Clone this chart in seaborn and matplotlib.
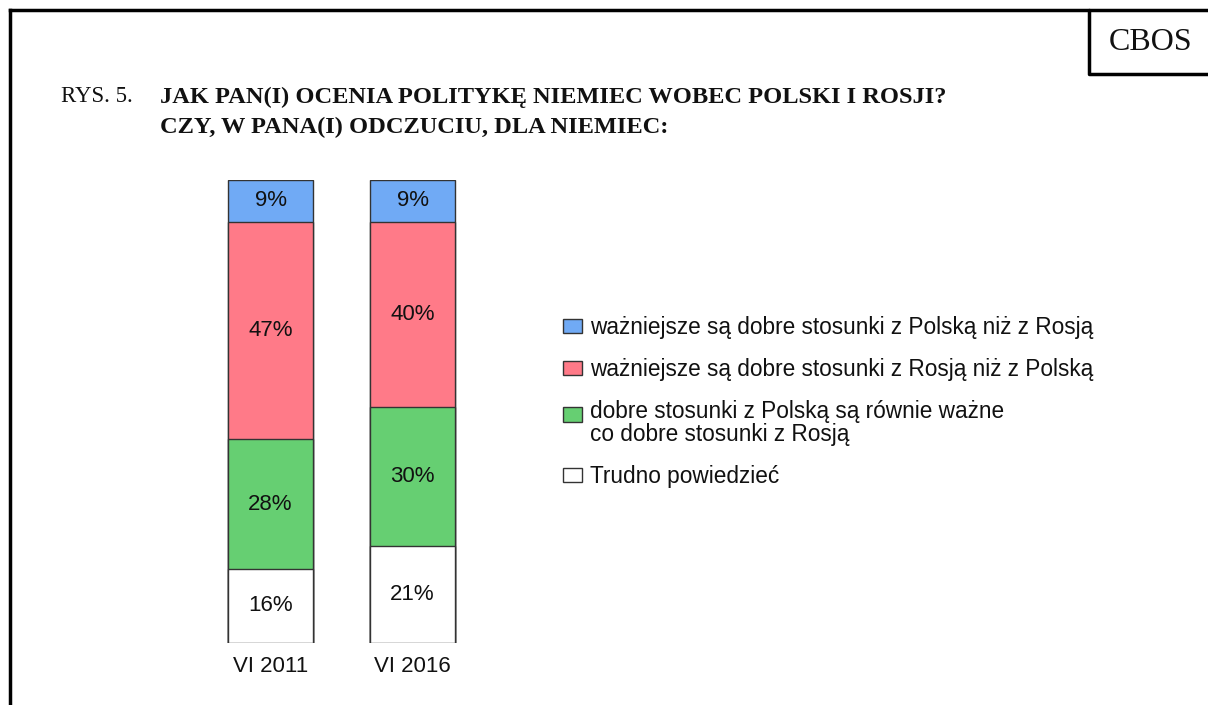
"""CBOS, rys. 5 - ocena polityki Niemiec wobec Polski i Rosji."""

import matplotlib

matplotlib.use("Agg")
import matplotlib.pyplot as plt
import pandas as pd
import seaborn as sns
from matplotlib.patches import Patch

W, H, DPI = 1208, 705, 100

okresy = ["VI 2011", "VI 2016"]
kategorie = [
    "ważniejsze są dobre stosunki z Polską niż z Rosją",
    "ważniejsze są dobre stosunki z Rosją niż z Polską",
    "dobre stosunki z Polską są równie ważne\nco dobre stosunki z Rosją",
    "Trudno powiedzieć",
]
wazniejsza_polska = [9, 9]
wazniejsza_rosja = [47, 40]
rownie_wazne = [28, 30]
trudno_powiedziec = [16, 21]

kolory = ["#70AAF5", "#FF7A88", "#66CF72", "#FFFFFF"]
EDGE = "#333333"

sns.set_theme(style="white")
plt.rcParams["font.family"] = ["Liberation Sans", "DejaVu Sans"]

# od dolu: trudno -> rownie -> rosja -> polska
serie = [trudno_powiedziec, rownie_wazne, wazniejsza_rosja, wazniejsza_polska]
kolory_dol = kolory[::-1]
rows = []
for okres_i, okres in enumerate(okresy):
    dol = 0
    for s_i, s in enumerate(serie):
        v = s[okres_i]
        rows.append({"okres": okres, "seria": s_i, "wartosc": v,
                     "dol": dol, "gora": dol + v})
        dol += v
df = pd.DataFrame(rows)


def px_rect(x0, y0, x1, y1):
    # piksele (od gory) -> ulamki figury
    return [x0 / W, 1 - y1 / H, (x1 - x0) / W, (y1 - y0) / H]


fig = plt.figure(figsize=(W / DPI, H / DPI), dpi=DPI)

# ramka i pudelko CBOS
bg = fig.add_axes([0, 0, 1, 1])
bg.set_xlim(0, W)
bg.set_ylim(H, 0)
bg.axis("off")
bg.plot([10, 10], [H, 10], color="black", lw=2.5, solid_capstyle="projecting")
bg.plot([10, W], [10, 10], color="black", lw=2.5, solid_capstyle="projecting")
bg.plot([1089, 1089, W], [10, 74, 74], color="black", lw=2.5)
bg.text(1151, 43, "CBOS", ha="center", va="center", fontsize=23,
        family="Liberation Serif", color="#111111")
bg.text(61, 97, "RYS. 5.", ha="left", va="center", fontsize=16.5,
        family="Liberation Serif", color="#111111")
bg.text(160, 97, "JAK PAN(I) OCENIA POLITYKĘ NIEMIEC WOBEC POLSKI I ROSJI?",
        ha="left", va="center", fontsize=17.6, family="Liberation Serif",
        weight="bold", color="#111111")
bg.text(160, 127, "CZY, W PANA(I) ODCZUCIU, DLA NIEMIEC:",
        ha="left", va="center", fontsize=17.6, family="Liberation Serif",
        weight="bold", color="#111111")

# slupki
ax = fig.add_axes(px_rect(199.5, 180, 483.5, 643))
for s_i in range(len(serie) - 1, -1, -1):
    sub = df[df["seria"] == s_i]
    sns.barplot(data=sub, x="okres", y="gora", order=okresy, color=kolory_dol[s_i],
                saturation=1, width=0.6, edgecolor=EDGE, linewidth=1, ax=ax)

for _, r in df.iterrows():
    xi = okresy.index(r["okres"])
    ax.text(xi, r["dol"] + r["wartosc"] / 2, f"{r['wartosc']}%",
            ha="center", va="center", fontsize=16, color="#111111")

ax.set_xlim(-0.5, 1.5)
ax.set_ylim(0, 100)
ax.set_xlabel("")
ax.set_ylabel("")
ax.set_yticks([])
ax.tick_params(axis="x", length=0, pad=9, labelsize=16, labelcolor="#111111")
sns.despine(ax=ax, left=True, bottom=True)

# legenda
uchwyty = [Patch(facecolor=c, edgecolor=EDGE, linewidth=1) for c in kolory]
leg = fig.legend(uchwyty, kategorie, loc="upper left",
                 bbox_to_anchor=(563 / W, 1 - 316 / H), frameon=False,
                 fontsize=16.3, borderpad=0, borderaxespad=0,
                 handlelength=0.84, handleheight=0.6, handletextpad=0.35,
                 labelspacing=0.85)
for t in leg.get_texts():
    t.set_linespacing(0.95)
    t.set_color("#111111")
# uchwyt przy pierwszej linii wpisu dwuwierszowego
h3 = leg.legend_handles[2]
h3.set_y(h3.get_y() + 7)

fig.savefig("out.png", dpi=DPI)
plt.close(fig)
